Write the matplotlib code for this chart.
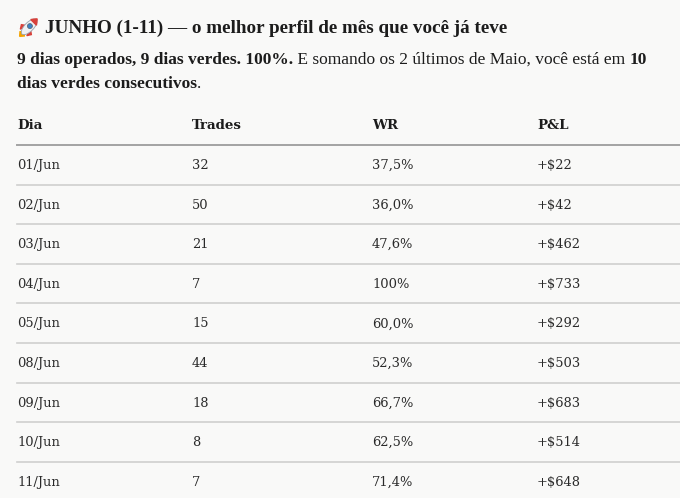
import matplotlib
matplotlib.use('Agg')
from matplotlib import pyplot as plt
from matplotlib.patches import Ellipse, Polygon, Circle
import matplotlib.transforms as mtransforms

# dados da tabela
dias = ['01/Jun', '02/Jun', '03/Jun', '04/Jun', '05/Jun', '08/Jun', '09/Jun', '10/Jun', '11/Jun']
trades = [32, 50, 21, 7, 15, 44, 18, 8, 7]
wr = ['37,5%', '36,0%', '47,6%', '100%', '60,0%', '52,3%', '66,7%', '62,5%', '71,4%']
pnl = [22, 42, 462, 733, 292, 503, 683, 514, 648]
cabecalho = ['Dia', 'Trades', 'WR', 'P&L']

titulo = 'JUNHO (1-11) — o melhor perfil de mês que você já teve'
sub1 = [('9 dias operados, 9 dias verdes. 100%.', True),
        (' E somando os 2 últimos de Maio, você está em ', False),
        ('10', True)]
sub2 = [('dias verdes consecutivos', True), ('.', False)]

W, H = 680, 498
BG = '#f9f9f8'
INK = '#1c1c1c'
SERIF_A = 'Liberation Serif'
SERIF_B = 'DejaVu Serif'

fig = plt.figure(figsize=(W / 100, H / 100), dpi=100, facecolor=BG)
renderer = fig.canvas.get_renderer()


def px(x, y):
    return x / W, 1 - y / H


def texto(x, y, s, size, bold=False, color=INK, fam=SERIF_A):
    t = fig.text(*px(x, y), s, fontsize=size, family=fam,
                 fontweight='bold' if bold else 'normal', color=color,
                 ha='left', va='baseline')
    return t


def largura(partes, size, fam):
    tot = 0
    for s, b in partes:
        t = texto(0, 0, s, size, b, fam=fam)
        tot += t.get_window_extent(renderer).width
        t.remove()
    return tot


def tamanho(partes, alvo, fam, base=12):
    # escolhe o corpo da fonte para ocupar a largura do original
    return base * alvo / largura(partes, base, fam)


def linha_mista(x, y, partes, size, fam):
    for s, b in partes:
        t = texto(x, y, s, size, b, fam=fam)
        x += t.get_window_extent(renderer).width


def hline(y, color, lw):
    fig.add_artist(plt.Line2D([17 / W, 1], [1 - y / H, 1 - y / H],
                              color=color, lw=lw, transform=fig.transFigure))


# foguete desenhado
ax_r = fig.add_axes([16 / W, 1 - 40 / H, 25 / W, 25 / H])
ax_r.set_xlim(0, 10)
ax_r.set_ylim(0, 10)
ax_r.axis('off')
rot = mtransforms.Affine2D().rotate_deg_around(5, 5, -45) + ax_r.transData
ax_r.add_patch(Polygon([[3.8, 1.4], [5, 2.8], [6.2, 1.4], [5, 0.0]], color='#f4a300', transform=rot))
ax_r.add_patch(Polygon([[3.2, 2.2], [2.2, 3.8], [3.6, 4.8]], color='#d8403a', transform=rot))
ax_r.add_patch(Polygon([[6.8, 2.2], [7.8, 3.8], [6.4, 4.8]], color='#d8403a', transform=rot))
ax_r.add_patch(Ellipse((5, 5.4), 3.6, 8.2, facecolor='#eef0f3', edgecolor='#9aa3ad', lw=0.6, transform=rot))
ax_r.add_patch(Polygon([[3.4, 7.9], [5, 9.9], [6.6, 7.9]], color='#d8403a', transform=rot))
ax_r.add_patch(Circle((5, 5.8), 1.0, facecolor='#3b82c4', edgecolor='#55606b', lw=0.5, transform=rot))

# título e subtítulo
s_tit = tamanho([(titulo, True)], 462, SERIF_A)
texto(45, 33, titulo, s_tit, True, fam=SERIF_A)
s_sub = tamanho(sub1, 628, SERIF_A)
linha_mista(17, 64, sub1, s_sub, SERIF_A)
linha_mista(17, 88, sub2, s_sub, SERIF_A)

# tabela
s_cab = 9.6
s_cel = 9.4
cols_x = [17, 192, 372, 537]
for x, c in zip(cols_x, cabecalho):
    texto(x, 129, c, s_cab, True, fam=SERIF_B)
hline(145, '#a3a3a3', 1.4)

passo = 39.6
for i in range(len(dias)):
    yb = 169 + passo * i
    valores = [dias[i], str(trades[i]), wr[i], '+$' + str(pnl[i])]
    for x, v in zip(cols_x, valores):
        texto(x, yb, v, s_cel, False, '#2a2a2a', fam=SERIF_B)
    if i < len(dias) - 1:
        hline(145 + passo * (i + 1), '#cfcfcf', 1.2)

fig.savefig('out.png', dpi=100, facecolor=BG)
